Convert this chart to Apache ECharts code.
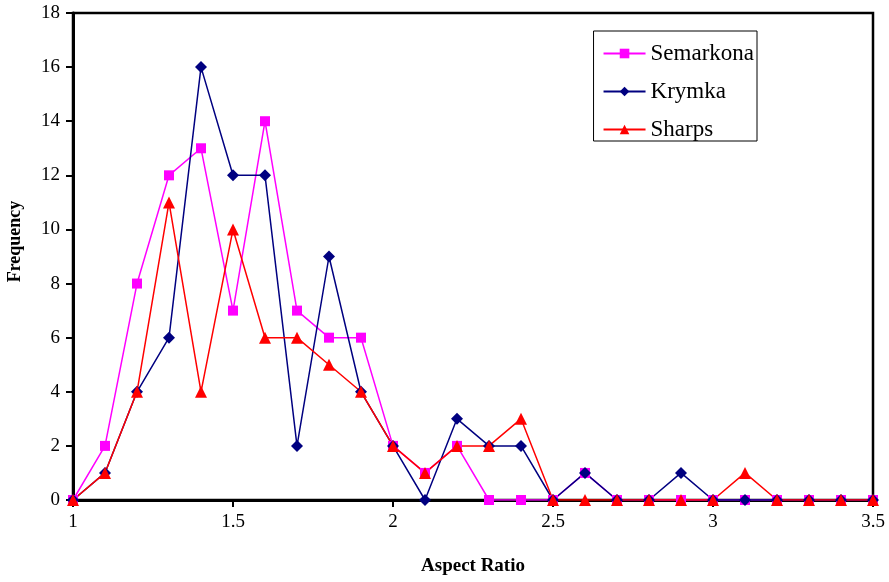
<!DOCTYPE html>
<html>
<head>
<meta charset="utf-8">
<script src="https://cdn.jsdelivr.net/npm/echarts@6/dist/echarts.min.js"></script>
<style>
  html, body { margin: 0; padding: 0; background: #fff; }
  #chart { width: 889px; height: 582px; }
</style>
</head>
<body>
<div id="chart"></div>
<script>
// Aspect ratio bins (0.1 wide) and chondrule counts per meteorite
const aspectRatio = [1.0, 1.1, 1.2, 1.3, 1.4, 1.5, 1.6, 1.7, 1.8, 1.9, 2.0, 2.1, 2.2,
                     2.3, 2.4, 2.5, 2.6, 2.7, 2.8, 2.9, 3.0, 3.1, 3.2, 3.3, 3.4, 3.5];
const semarkona = [0, 2, 8, 12, 13, 7, 14, 7, 6, 6, 2, 1, 2, 0, 0, 0, 1, 0, 0, 0, 0, 0, 0, 0, 0, 0];
const krymka    = [0, 1, 4, 6, 16, 12, 12, 2, 9, 4, 2, 0, 3, 2, 2, 0, 1, 0, 0, 1, 0, 0, 0, 0, 0, 0];
const sharps    = [0, 1, 4, 11, 4, 10, 6, 6, 5, 4, 2, 1, 2, 2, 3, 0, 0, 0, 0, 0, 0, 1, 0, 0, 0, 0];

const pairs = ys => aspectRatio.map((x, i) => [x, ys[i]]);
const serif = '"Liberation Serif", "Times New Roman", serif';

const chart = echarts.init(document.getElementById('chart'));
chart.setOption({
  animation: false,
  backgroundColor: '#ffffff',
  grid: {
    left: 73, right: 16, top: 13, bottom: 82,
    outerBoundsMode: 'none', containLabel: false,
    show: true, borderColor: '#000', borderWidth: 2.5, backgroundColor: 'transparent'
  },
  legend: {
    right: 132, top: 31,
    orient: 'vertical',
    itemWidth: 42, itemHeight: 12, itemGap: 15,
    padding: [11, 3, 0, 9],
    borderColor: '#000', borderWidth: 1,
    backgroundColor: '#fff',
    textStyle: { fontFamily: serif, fontSize: 23, lineHeight: 22, color: '#000' },
    data: ['Semarkona', 'Krymka', 'Sharps']
  },
  xAxis: {
    type: 'value', min: 1, max: 3.5, interval: 0.5,
    name: 'Aspect Ratio', nameLocation: 'middle', nameGap: 57,
    nameTextStyle: { fontFamily: serif, fontSize: 19, fontWeight: 'bold', color: '#000' },
    axisLine: { show: true, lineStyle: { color: '#000', width: 3 } },
    axisTick: { show: true, length: 7, lineStyle: { color: '#000', width: 2 } },
    axisLabel: { fontFamily: serif, fontSize: 19, color: '#000', margin: 13 },
    splitLine: { show: false }
  },
  yAxis: {
    type: 'value', min: 0, max: 18, interval: 2,
    name: 'Frequency', nameLocation: 'middle', nameGap: 49,
    nameTextStyle: { fontFamily: serif, fontSize: 18, fontWeight: 'bold', color: '#000',
                     padding: [0, 0, 0, 30] },
    axisLine: { show: true, lineStyle: { color: '#000', width: 3 } },
    axisTick: { show: true, length: 7, lineStyle: { color: '#000', width: 2 } },
    axisLabel: { fontFamily: serif, fontSize: 19, color: '#000', margin: 13 },
    splitLine: { show: false }
  },
  series: [
    {
      name: 'Semarkona', type: 'line', data: pairs(semarkona),
      symbol: 'rect', symbolSize: 10,
      itemStyle: { color: '#ff00ff' },
      lineStyle: { color: '#ff00ff', width: 1.5 }
    },
    {
      name: 'Krymka', type: 'line', data: pairs(krymka),
      symbol: 'diamond', symbolSize: 12,
      itemStyle: { color: '#000080' },
      lineStyle: { color: '#000080', width: 1.5 }
    },
    {
      name: 'Sharps', type: 'line', data: pairs(sharps),
      symbol: 'triangle', symbolSize: 12,
      itemStyle: { color: '#ff0000' },
      lineStyle: { color: '#ff0000', width: 1.5 }
    }
  ]
});
</script>
</body>
</html>
